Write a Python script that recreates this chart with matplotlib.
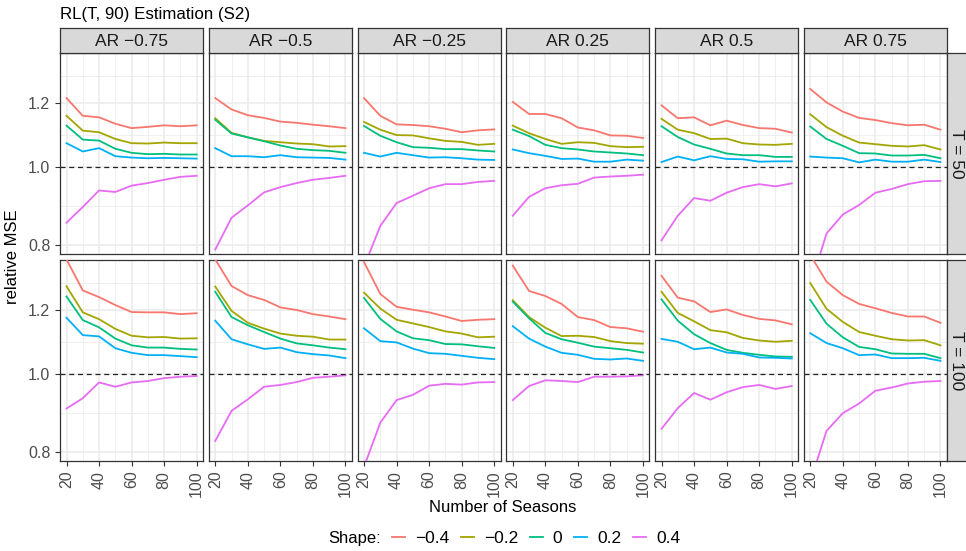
import numpy as np
import matplotlib.pyplot as plt
from matplotlib.lines import Line2D
from matplotlib.ticker import FixedLocator, NullFormatter

plt.rcParams['font.family'] = ['Liberation Sans', 'DejaVu Sans']

seasons = [20, 30, 40, 50, 60, 70, 80, 90, 100]
ar_labels = ['AR −0.75', 'AR −0.5', 'AR −0.25', 'AR 0.25', 'AR 0.5', 'AR 0.75']
t_labels = ['T = 50', 'T = 100']
shape_labels = ['−0.4', '−0.2', '0', '0.2', '0.4']
colors = ['#F8766D', '#A3A500', '#00BF7D', '#00B0F6', '#E76BF3']

# relative MSE, one row per AR column, T = 50
t50_shape_m04 = [
    [1.217, 1.157, 1.152, 1.131, 1.117, 1.121, 1.126, 1.123, 1.126],
    [1.217, 1.178, 1.159, 1.150, 1.138, 1.134, 1.128, 1.123, 1.117],
    [1.217, 1.157, 1.129, 1.127, 1.123, 1.115, 1.104, 1.110, 1.113],
    [1.204, 1.163, 1.163, 1.149, 1.119, 1.110, 1.094, 1.093, 1.086],
    [1.192, 1.149, 1.152, 1.126, 1.141, 1.127, 1.117, 1.115, 1.103],
    [1.249, 1.202, 1.171, 1.150, 1.143, 1.133, 1.126, 1.128, 1.112],
]
t50_shape_m02 = [
    [1.157, 1.109, 1.104, 1.083, 1.070, 1.069, 1.072, 1.070, 1.070],
    [1.149, 1.102, 1.088, 1.077, 1.073, 1.069, 1.067, 1.060, 1.061],
    [1.137, 1.112, 1.095, 1.094, 1.085, 1.077, 1.074, 1.065, 1.068],
    [1.125, 1.101, 1.083, 1.068, 1.073, 1.071, 1.061, 1.058, 1.059],
    [1.147, 1.112, 1.101, 1.083, 1.084, 1.070, 1.066, 1.065, 1.068],
    [1.162, 1.120, 1.093, 1.072, 1.067, 1.062, 1.060, 1.064, 1.051],
]
t50_shape_0 = [
    [1.125, 1.081, 1.078, 1.053, 1.041, 1.037, 1.038, 1.036, 1.036],
    [1.144, 1.100, 1.088, 1.076, 1.063, 1.053, 1.049, 1.047, 1.041],
    [1.124, 1.093, 1.073, 1.058, 1.056, 1.052, 1.052, 1.048, 1.045],
    [1.112, 1.092, 1.065, 1.055, 1.051, 1.045, 1.042, 1.039, 1.034],
    [1.123, 1.089, 1.066, 1.053, 1.039, 1.034, 1.034, 1.029, 1.029],
    [1.122, 1.083, 1.062, 1.040, 1.039, 1.033, 1.033, 1.035, 1.025],
]
t50_shape_02 = [
    [1.070, 1.045, 1.055, 1.031, 1.027, 1.025, 1.026, 1.025, 1.024],
    [1.055, 1.031, 1.031, 1.028, 1.034, 1.028, 1.027, 1.026, 1.021],
    [1.041, 1.030, 1.041, 1.034, 1.027, 1.028, 1.025, 1.021, 1.020],
    [1.051, 1.040, 1.032, 1.023, 1.024, 1.015, 1.015, 1.021, 1.018],
    [1.014, 1.030, 1.019, 1.031, 1.023, 1.022, 1.015, 1.016, 1.016],
    [1.030, 1.027, 1.025, 1.013, 1.021, 1.015, 1.015, 1.021, 1.014],
]
t50_shape_04 = [
    [0.853, 0.892, 0.935, 0.931, 0.948, 0.955, 0.964, 0.972, 0.975],
    [0.790, 0.865, 0.896, 0.930, 0.944, 0.955, 0.964, 0.969, 0.975],
    [0.752, 0.845, 0.902, 0.921, 0.941, 0.952, 0.952, 0.958, 0.961],
    [0.870, 0.918, 0.941, 0.949, 0.953, 0.970, 0.973, 0.975, 0.978],
    [0.811, 0.870, 0.915, 0.908, 0.929, 0.944, 0.952, 0.946, 0.954],
    [0.711, 0.827, 0.873, 0.897, 0.929, 0.939, 0.952, 0.960, 0.961],
]

# T = 100
t100_shape_m04 = [
    [1.386, 1.269, 1.245, 1.217, 1.193, 1.192, 1.192, 1.186, 1.189],
    [1.386, 1.285, 1.252, 1.235, 1.209, 1.200, 1.186, 1.178, 1.169],
    [1.376, 1.256, 1.211, 1.201, 1.192, 1.178, 1.163, 1.167, 1.169],
    [1.362, 1.267, 1.249, 1.221, 1.176, 1.166, 1.143, 1.139, 1.128],
    [1.323, 1.243, 1.230, 1.193, 1.202, 1.183, 1.170, 1.165, 1.152],
    [1.404, 1.301, 1.252, 1.221, 1.206, 1.190, 1.178, 1.178, 1.157],
]
t100_shape_m02 = [
    [1.284, 1.192, 1.169, 1.137, 1.115, 1.110, 1.111, 1.106, 1.107],
    [1.283, 1.197, 1.157, 1.138, 1.122, 1.115, 1.112, 1.103, 1.103],
    [1.261, 1.205, 1.167, 1.155, 1.143, 1.129, 1.122, 1.110, 1.112],
    [1.234, 1.176, 1.141, 1.114, 1.115, 1.111, 1.098, 1.092, 1.090],
    [1.264, 1.190, 1.162, 1.133, 1.126, 1.108, 1.100, 1.096, 1.099],
    [1.296, 1.204, 1.160, 1.127, 1.115, 1.104, 1.100, 1.101, 1.085],
]
t100_shape_0 = [
    [1.247, 1.166, 1.142, 1.106, 1.085, 1.078, 1.078, 1.074, 1.072],
    [1.264, 1.176, 1.149, 1.127, 1.106, 1.091, 1.085, 1.078, 1.073],
    [1.242, 1.170, 1.129, 1.107, 1.101, 1.089, 1.088, 1.082, 1.077],
    [1.229, 1.172, 1.124, 1.104, 1.093, 1.081, 1.076, 1.071, 1.063],
    [1.237, 1.164, 1.120, 1.092, 1.071, 1.062, 1.056, 1.051, 1.050],
    [1.235, 1.154, 1.110, 1.080, 1.073, 1.060, 1.059, 1.059, 1.046],
]
t100_shape_02 = [
    [1.174, 1.117, 1.113, 1.076, 1.062, 1.055, 1.055, 1.052, 1.049],
    [1.164, 1.104, 1.088, 1.074, 1.078, 1.064, 1.058, 1.054, 1.046],
    [1.139, 1.098, 1.094, 1.075, 1.061, 1.059, 1.053, 1.047, 1.043],
    [1.146, 1.106, 1.081, 1.062, 1.056, 1.044, 1.042, 1.045, 1.038],
    [1.105, 1.096, 1.073, 1.078, 1.063, 1.059, 1.048, 1.047, 1.045],
    [1.123, 1.092, 1.076, 1.055, 1.057, 1.046, 1.046, 1.047, 1.038],
]
t100_shape_04 = [
    [0.906, 0.933, 0.976, 0.964, 0.976, 0.980, 0.988, 0.992, 0.994],
    [0.826, 0.900, 0.930, 0.964, 0.969, 0.977, 0.989, 0.992, 0.996],
    [0.767, 0.870, 0.928, 0.942, 0.967, 0.972, 0.970, 0.976, 0.977],
    [0.928, 0.966, 0.982, 0.980, 0.977, 0.992, 0.992, 0.993, 0.996],
    [0.855, 0.907, 0.947, 0.929, 0.949, 0.963, 0.969, 0.958, 0.966],
    [0.735, 0.850, 0.894, 0.919, 0.953, 0.962, 0.973, 0.978, 0.980],
]

rows = [
    [t50_shape_m04, t50_shape_m02, t50_shape_0, t50_shape_02, t50_shape_04],
    [t100_shape_m04, t100_shape_m02, t100_shape_0, t100_shape_02, t100_shape_04],
]

W, H = 966, 551
fig = plt.figure(figsize=(W / 100, H / 100), dpi=100)


def px_axes(x0, y0, x1, y1):
    # pixel box (top-left origin) -> figure axes
    return fig.add_axes([x0 / W, 1 - y1 / H, (x1 - x0) / W, (y1 - y0) / H])


left, right = 60, 947
gap = 5.5
pw = (right - left - 5 * gap) / 6
row_tops = [53, 260]
ph = 201
ylo, yhi = 0.780, 1.384
grey20 = '#333333'

for r in range(2):
    for c in range(6):
        x0 = left + c * (pw + gap)
        ax = px_axes(x0, row_tops[r], x0 + pw, row_tops[r] + ph)
        ax.set_yscale('log')
        ax.set_xlim(16, 104)
        ax.set_ylim(ylo, yhi)
        ax.yaxis.set_major_locator(FixedLocator([0.8, 1.0, 1.2]))
        ax.yaxis.set_minor_locator(FixedLocator([np.sqrt(0.8), np.sqrt(1.2), np.sqrt(1.2 * 1.4)]))
        ax.yaxis.set_minor_formatter(NullFormatter())
        ax.xaxis.set_major_locator(FixedLocator([20, 40, 60, 80, 100]))
        ax.xaxis.set_minor_locator(FixedLocator([30, 50, 70, 90]))
        ax.grid(True, which='major', color='#EBEBEB', lw=1.1)
        ax.grid(True, which='minor', color='#EBEBEB', lw=0.55)
        ax.set_axisbelow(True)
        for s in ax.spines.values():
            s.set_color(grey20)
            s.set_linewidth(0.9)
        ax.tick_params(which='minor', length=0)
        ax.tick_params(which='major', length=3.5, width=0.8, color=grey20,
                       labelcolor='#4D4D4D', labelsize=11.5)
        if c == 0:
            ax.set_yticklabels(['0.8', '1.0', '1.2'])
        else:
            ax.tick_params(axis='y', which='major', length=0, labelleft=False)
        if r == 1:
            ax.set_xticklabels(['20', '40', '60', '80', '100'], rotation=90)
        else:
            ax.tick_params(axis='x', which='major', length=0, labelbottom=False)

        for k, series in enumerate(rows[r]):
            ax.plot(seasons, series[c], color=colors[k], lw=1.3, zorder=3)
        ax.axhline(1.0, color='#222222', lw=0.9, ls=(0, (4, 3)), zorder=4)

        # column strips
        if r == 0:
            sax = px_axes(x0, 28, x0 + pw, 53)
            sax.set_facecolor('#D9D9D9')
            sax.set_xticks([])
            sax.set_yticks([])
            for s in sax.spines.values():
                s.set_color(grey20)
                s.set_linewidth(0.9)
            sax.text(0.5, 0.45, ar_labels[c], ha='center', va='center',
                     fontsize=12.5, color='#1A1A1A', transform=sax.transAxes)

    # row strip
    rax = px_axes(947, row_tops[r], 968, row_tops[r] + ph)
    rax.set_facecolor('#D9D9D9')
    rax.set_xticks([])
    rax.set_yticks([])
    for s in rax.spines.values():
        s.set_color(grey20)
        s.set_linewidth(0.9)
    rax.text(0.45, 0.5, t_labels[r], ha='center', va='center', rotation=-90,
             fontsize=12.5, color='#1A1A1A', transform=rax.transAxes)

fig.text(60 / W, 1 - 15 / H, 'RL(T, 90) Estimation (S2)', ha='left', va='center',
         fontsize=12.2, color='black')
fig.text(13 / W, 1 - 257 / H, 'relative MSE', ha='center', va='center',
         rotation=90, fontsize=12, color='black')
fig.text(503 / W, 1 - 508 / H, 'Number of Seasons', ha='center', va='center',
         fontsize=12, color='black')

fig.text(328 / W, 1 - 538 / H, 'Shape:', ha='left', va='center', fontsize=12)
handles = [Line2D([], [], color=col, lw=1.3) for col in colors]
fig.legend(handles, shape_labels, loc='center left', bbox_to_anchor=(392 / W, 1 - 538 / H),
           ncol=5, frameon=False, fontsize=12.5, handlelength=0.75, handletextpad=0.57,
           columnspacing=0.68, borderaxespad=0, borderpad=0)

fig.savefig('out.png', dpi=100)
